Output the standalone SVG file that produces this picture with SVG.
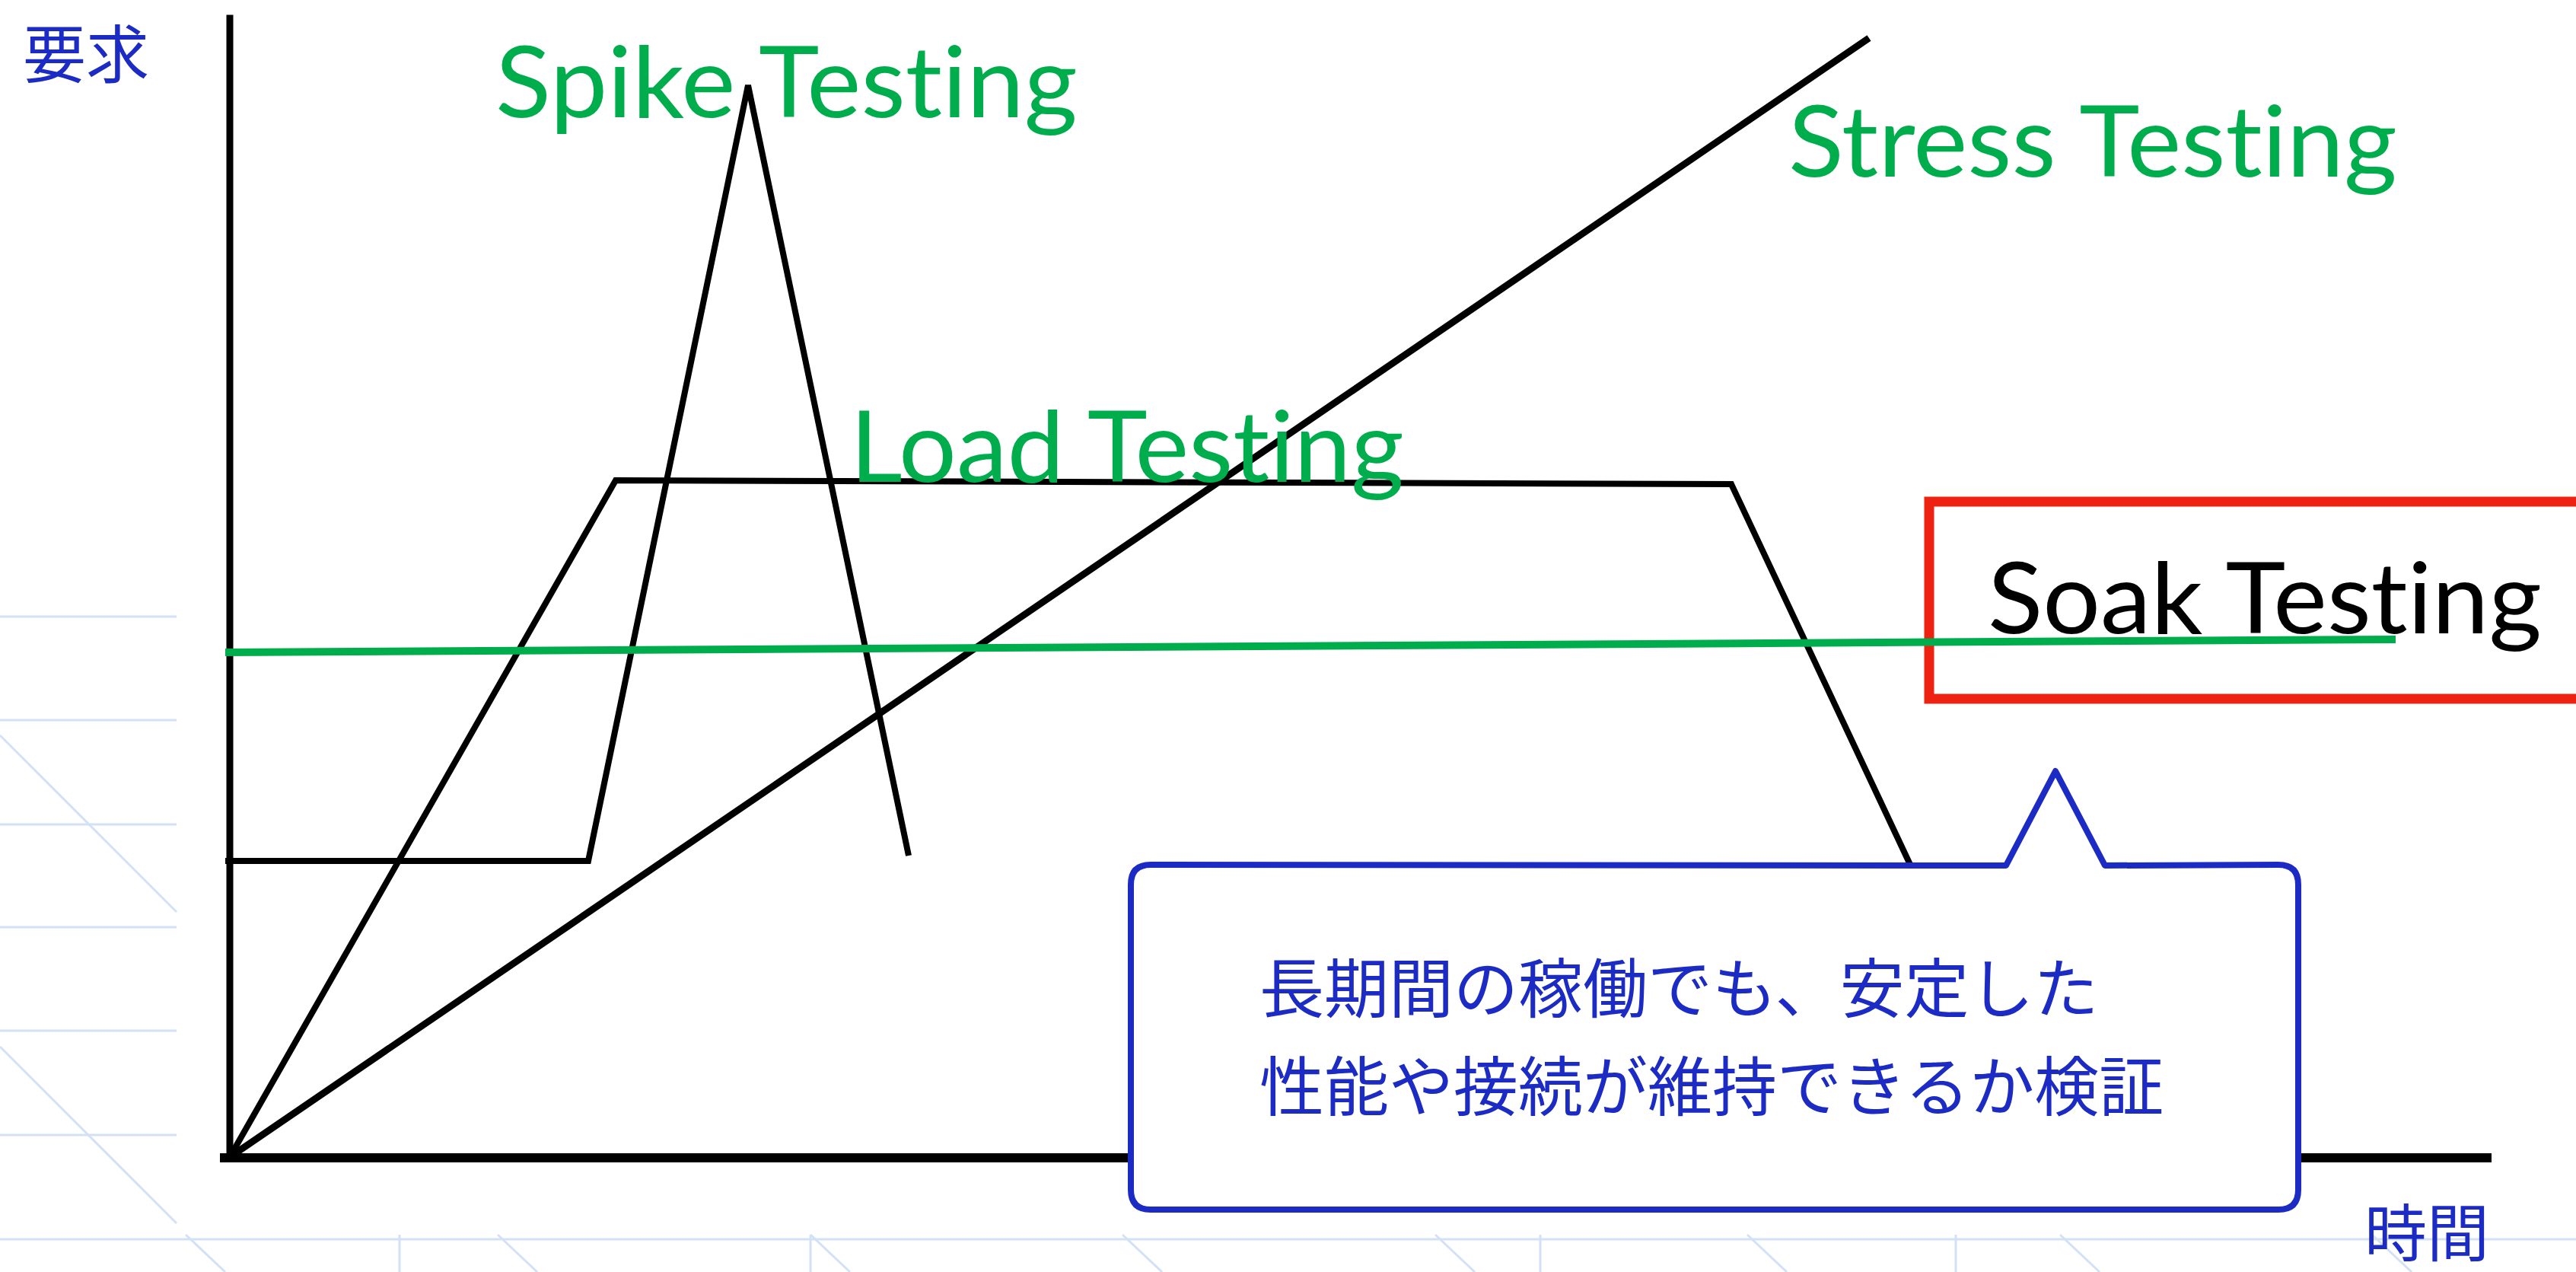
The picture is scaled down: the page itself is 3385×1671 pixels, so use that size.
<svg xmlns="http://www.w3.org/2000/svg" width="3385" height="1671" viewBox="0 0 3385 1671">
  <style>
    .bg { stroke: #d3e1f7; stroke-width: 3; fill: none; }
    .axis { stroke: #000; fill: none; stroke-linecap: square; }
    .curve { stroke: #000; fill: none; stroke-linejoin: miter; stroke-linecap: butt; }
    .label { font-family: Lato, "Open Sans", "Liberation Sans", sans-serif; font-size: 130px; font-variant-ligatures: none; font-feature-settings: "liga" 0, "clig" 0; }
    .green { fill: #00ad4c; }
    .jp { font-family: "Noto Sans CJK JP", "Noto Sans CJK SC", sans-serif; fill: #1c2bc4; }
  </style>

  <rect width="3385" height="1671" fill="#ffffff"/>

  <!-- faint background grid -->
  <g id="background">
    <path class="bg" d="M0,810 H232 M0,946 H232 M0,1083 H232 M0,1218 H232 M0,1354 H232 M0,1491 H232"/>
    <path class="bg" d="M0,966 L232,1198 M0,1375 L232,1607"/>
    <path class="bg" stroke-width="5" d="M0,1628 H3385"/>
    <path class="bg" d="M525,1622 V1671 M1065,1622 V1671 M2024,1622 V1671 M2570,1622 V1671"/>
    <path class="bg" d="M244,1622 l52,49 M654,1622 l52,49 M1065,1622 l52,49 M1475,1622 l52,49 M1886,1622 l52,49 M2296,1622 l52,49 M2707,1622 l52,49 M3117,1622 l52,49"/>
  </g>

  <!-- axes -->
  <g id="axes">
    <line class="axis" x1="302" y1="24" x2="302" y2="1521" stroke-width="9"/>
    <line class="axis" x1="295" y1="1521" x2="3268" y2="1521" stroke-width="12"/>
  </g>

  <!-- load profiles -->
  <g id="connectors">
    <path id="spike-line" class="curve" stroke-width="8" d="M296,1131 L773,1131 L983,112 L1194,1124"/>
    <path id="load-line" class="curve" stroke-width="8" d="M302,1520 L809,631 L2275,636 L2512,1140"/>
    <path id="stress-line" class="curve" stroke-width="9" d="M302,1520 L2456,50"/>
  </g>

  <!-- soak label with frame -->
  <g id="soak">
    <rect x="2535" y="659" width="900" height="259" fill="none" stroke="#ee2211" stroke-width="13"/>
    <text class="label" x="2612" y="832" font-size="128" textLength="728" lengthAdjust="spacingAndGlyphs" fill="#000">Soak Testing</text>
  </g>

  <g id="soak-line">
    <line x1="296" y1="857" x2="3148" y2="840" stroke="#00ad4c" stroke-width="10"/>
  </g>

  <!-- profile names -->
  <g id="spike-label">
    <text class="label green" x="651" y="154" font-size="130" textLength="765" lengthAdjust="spacingAndGlyphs">Spike Testing</text>
  </g>
  <g id="stress-label">
    <text class="label green" x="2350" y="232" font-size="131" textLength="800" lengthAdjust="spacingAndGlyphs">Stress Testing</text>
  </g>
  <g id="load-label">
    <text class="label green" x="1117" y="633" font-size="126" textLength="728" lengthAdjust="spacingAndGlyphs">Load Testing</text>
  </g>

  <!-- axis names -->
  <g id="y-label">
    <text class="jp" x="30" y="102" font-size="83">要求</text>
  </g>
  <g id="x-label">
    <text class="jp" x="3107" y="1650" font-size="82">時間</text>
  </g>

  <!-- speech bubble -->
  <g id="callout">
    <path d="M1512,1136 L2636,1137 L2701,1013 L2766,1137 L2994,1136 Q3020,1136 3020,1162 L3020,1563 Q3020,1589 2994,1589 L1512,1589 Q1486,1589 1486,1563 L1486,1162 Q1486,1136 1512,1136 Z" fill="#ffffff" stroke="#1c2bc4" stroke-width="8" stroke-linejoin="round"/>
    <text class="jp" x="1655" y="1330" font-size="85">長期間の稼働でも、安定した</text>
    <text class="jp" x="1655" y="1459" font-size="85">性能や接続が維持できるか検証</text>
  </g>
</svg>
